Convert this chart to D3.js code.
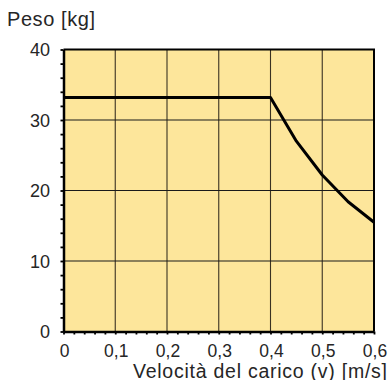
<!DOCTYPE html>
<html>
<head>
<meta charset="utf-8">
<script src="https://cdn.jsdelivr.net/npm/d3@7"></script>
<style>
  html, body { margin: 0; padding: 0; background: #fff; }
  svg { display: block; }
  text { font-family: "Liberation Sans", Arial, sans-serif; fill: #262626; }
</style>
</head>
<body>
<svg id="chart" width="390" height="380"></svg>
<script>
// Load speed (m/s) and the corresponding max weight (kg)
const speeds  = [0, 0.4, 0.45, 0.5, 0.55, 0.6];
const weights = [33.2, 33.2, 27.0, 22.2, 18.4, 15.5];

const xTicks = [0, 0.1, 0.2, 0.3, 0.4, 0.5, 0.6];
const yTicks = [0, 10, 20, 30, 40];
const xTickLabels = ["0", "0,1", "0,2", "0,3", "0,4", "0,5", "0,6"];
const yTickLabels = ["0", "10", "20", "30", "40"];

const yTitle = "Peso [kg]";
const xTitle = "Velocità del carico (v) [m/s]";

const svg = d3.select("#chart");
const plotL = 63.5, plotR = 374, plotT = 49.5, plotB = 331.5;

const x = d3.scaleLinear().domain([0, 0.6]).range([plotL, plotR]);
const y = d3.scaleLinear().domain([0, 40]).range([plotB, plotT]);

// plot background
svg.append("rect")
  .attr("x", plotL).attr("y", plotT)
  .attr("width", plotR - plotL).attr("height", plotB - plotT)
  .attr("fill", "#fde69b");

// grid
svg.append("g").selectAll("line").data(xTicks.slice(1, -1)).join("line")
  .attr("x1", d => x(d)).attr("x2", d => x(d))
  .attr("y1", plotT).attr("y2", plotB)
  .attr("stroke", "#3a3222").attr("stroke-width", 1.1);
svg.append("g").selectAll("line").data(yTicks.slice(1, -1)).join("line")
  .attr("x1", plotL).attr("x2", plotR)
  .attr("y1", d => y(d)).attr("y2", d => y(d))
  .attr("stroke", "#1a1a1a").attr("stroke-width", 1.1);

// frame top/right
svg.append("path")
  .attr("d", `M${plotL},${plotT}H${plotR}V${plotB}`)
  .attr("fill", "none").attr("stroke", "#000").attr("stroke-width", 2);

// x axis with minor ticks every 0.02
const xAxis = d3.axisBottom(x)
  .tickValues(d3.range(0, 0.6001, 0.02))
  .tickSize(3).tickSizeOuter(0).tickFormat("");
const gx = svg.append("g").attr("transform", `translate(0,${plotB})`).call(xAxis);
gx.select(".domain").attr("stroke", "#000").attr("stroke-width", 2.5);
gx.selectAll(".tick line").attr("stroke", "#000").attr("stroke-width", 1.8);

// y axis with minor ticks every 2
const yAxis = d3.axisLeft(y)
  .tickValues(d3.range(0, 40.001, 2))
  .tickSize(3).tickSizeOuter(0).tickFormat("");
const gy = svg.append("g").attr("transform", `translate(${plotL},0)`).call(yAxis);
gy.select(".domain").attr("stroke", "#000").attr("stroke-width", 2.5);
gy.selectAll(".tick line").attr("stroke", "#000").attr("stroke-width", 1.8);

// major tick labels
svg.append("g").selectAll("text").data(xTicks).join("text")
  .attr("x", d => x(d) + 1).attr("y", 357)
  .attr("text-anchor", "middle").attr("font-size", 17.5)
  .text((d, i) => xTickLabels[i]);
svg.append("g").selectAll("text").data(yTicks).join("text")
  .attr("x", 50).attr("y", d => y(d) + 6.5)
  .attr("text-anchor", "end").attr("font-size", 18)
  .text((d, i) => yTickLabels[i]);

// titles
svg.append("text").attr("x", 7).attr("y", 26)
  .attr("font-size", 20).attr("textLength", 88).attr("lengthAdjust", "spacing")
  .text(yTitle);
svg.append("text").attr("x", 133).attr("y", 377.5)
  .attr("font-size", 19.5).attr("textLength", 254).attr("lengthAdjust", "spacing")
  .text(xTitle);

// weight curve
const line = d3.line().x((d, i) => x(speeds[i])).y(d => y(d));
svg.append("path").datum(weights)
  .attr("d", line)
  .attr("fill", "none").attr("stroke", "#000")
  .attr("stroke-width", 3).attr("stroke-linejoin", "round");
</script>
</body>
</html>
